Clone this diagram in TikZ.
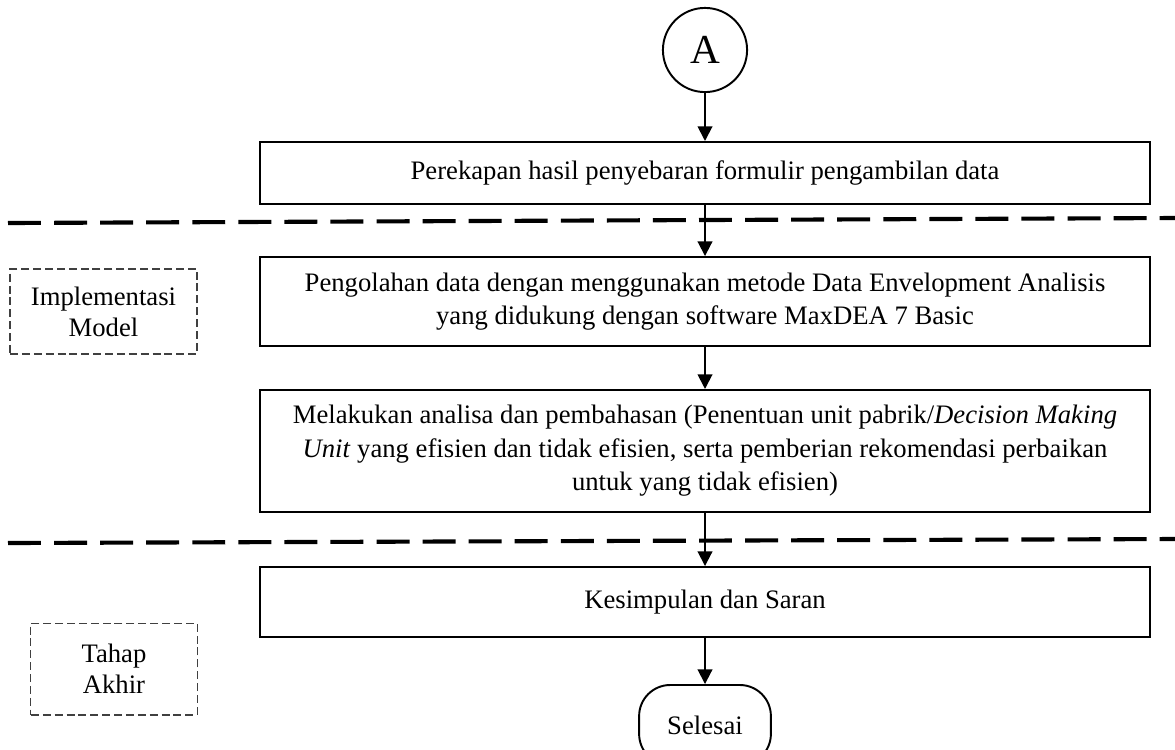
\documentclass[tikz,border=0pt]{standalone}
\usepackage{fontspec}
\setmainfont{Liberation Serif}
\usetikzlibrary{arrows.meta}

\begin{document}
\begin{tikzpicture}[x=0.0145cm, y=-0.0145cm]
        \tikzset{
            proses/.style={
                draw,
                line width=0.8pt,
                minimum width=12.9cm,
                inner sep=0pt,
                align=center,
                font=\fontsize{11}{13.8}\selectfont
            },
            tahap/.style={
                draw=black!75,
                dash pattern=on 3.3pt off 1.6pt,
                line width=0.5pt,
                inner sep=0pt,
                align=center,
                font=\fontsize{11}{12.8}\selectfont
            },
            panah/.style={-{Triangle[length=6pt,width=6pt]}, line width=0.8pt},
            batas/.style={dash pattern=on 13.6pt off 5.4pt, line width=1.7pt}
        }
        \clip (0,0) rectangle (1175,749);

        %garis pemisah tahap
        \draw[batas] (8,223) -- (1175,218);
        \draw[batas] (8,543) -- (1175,539);

        %alur utama
        \node[circle, draw, line width=0.8pt, minimum size=1.22cm, inner sep=0pt,
              font=\fontsize{17}{20}\selectfont] (A) at (705,50) {A};
        \node[proses, minimum height=0.9cm] (rekap) at (705,173)
            {Perekapan hasil penyebaran formulir pengambilan data};
        \node[proses, minimum height=1.29cm] (olah) at (705,301.5)
            {Pengolahan data dengan menggunakan metode Data Envelopment Analisis\\
             yang didukung dengan software MaxDEA 7 Basic};
        \node[proses, minimum height=1.77cm] (analisa) at (705,451)
            {Melakukan analisa dan pembahasan (Penentuan unit pabrik/\textit{Decision Making}\\
             \textit{Unit} yang efisien dan tidak efisien, serta pemberian rekomendasi perbaikan\\
             untuk yang tidak efisien)};
        \node[proses, minimum height=1.015cm] (simpul) at (705,602) {Kesimpulan dan Saran};
        \node[draw, line width=0.8pt, rounded corners=0.45cm, minimum width=1.91cm,
              minimum height=1.16cm, font=\fontsize{11}{13.8}\selectfont] (selesai) at (705,725) {Selesai};

        \draw[panah] (A) -- (rekap);
        \draw[panah] (rekap) -- (olah);
        \draw[panah] (olah) -- (analisa);
        \draw[panah] (analisa) -- (simpul);
        \draw[panah] (simpul) -- (selesai);

        %label tahap
        \node[tahap, minimum width=2.71cm, minimum height=1.23cm] (impl) at (103.5,311.5)
            {Implementasi\\Model};
        \node[tahap, minimum width=2.41cm, minimum height=1.33cm] (akhir) at (114,669)
            {Tahap\\Akhir};

\end{tikzpicture}
\end{document}
